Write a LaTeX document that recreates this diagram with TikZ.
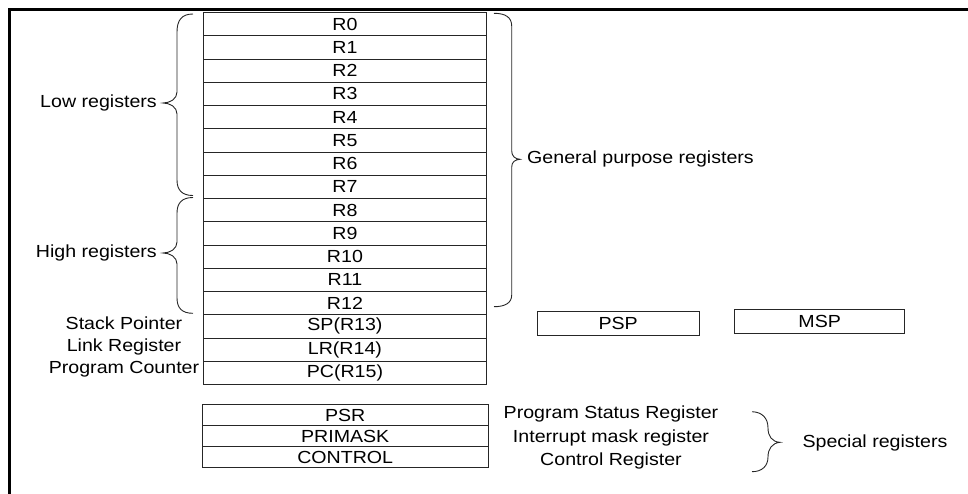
\documentclass[tikz,border=0pt]{standalone}
\usepackage{fontspec}
\setmainfont{Liberation Sans}[FakeStretch=1.12]
\begin{document}
\begin{tikzpicture}[x=1pt,y=-1pt,font=\fontsize{17.5}{20}\selectfont,
  reg/.style={draw=black!85,line width=0.9pt,minimum width=283pt,minimum height=23.25pt,inner sep=0pt,anchor=north west},
  sreg/.style={draw=black!85,line width=0.9pt,minimum width=285.5pt,minimum height=20.9pt,inner sep=0pt,anchor=north west},
  sbox/.style={draw=black!85,line width=0.9pt,inner sep=0pt},
  brc/.style={draw=black!85,line width=0.9pt},
  lbl/.style={inner sep=0pt}]
\useasboundingbox (0,0) rectangle (968,493);
% frame (top and left edges)
\draw[line width=3pt] (9.5,494) -- (9.5,9) -- (969,9);
% core registers
\foreach \i/\t in {0/R0,1/R1,2/R2,3/R3,4/R4,5/R5,6/R6,7/R7,8/R8,9/R9,10/R10,11/R11,12/R12,13/SP(R13),14/LR(R14),15/PC(R15)}
  \node[reg] (r\i) at (203,{12+23.25*\i}) {\t};
% special registers
\node[sreg] (psr) at (202,404.3) {PSR};
\node[sreg] (primask) at (202,425.2) {PRIMASK};
\node[sreg] (control) at (202,446.1) {CONTROL};
% banked stack pointers
\node[sbox,minimum width=162.3pt,minimum height=24pt] (psp) at (618.2,323.3) {PSP};
\node[sbox,minimum width=170pt,minimum height=23.7pt] (msp) at (819.7,321.2) {MSP};
% left labels
\node[lbl] (sp) at (124,323.5) {Stack Pointer};
\node[lbl] (lr) at (124,346.5) {Link Register};
\node[lbl] (pc) at (124,369) {Program Counter};
\node[lbl,anchor=east] (low) at (157,103) {Low registers};
\node[lbl,anchor=east] (high) at (157,253) {High registers};
\node[lbl,anchor=west] (gp) at (527,158.5) {General purpose registers};
\node[lbl] (psrl) at (611,414) {Program Status Register};
\node[lbl] (pml) at (611,438) {Interrupt mask register};
\node[lbl] (ctl) at (611,460.5) {Control Register};
\node[lbl] (spec) at (875,442.5) {Special registers};
% braces
\draw[brc] (193,14) .. controls (182,14) and (177,20) .. (177,32) -- (177,92)
  .. controls (177,99) and (170,103) .. (163,103) .. controls (170,103) and (177,107) .. (177,114)
  -- (177,180) .. controls (177,190) and (182,195.5) .. (193,195.5);
\draw[brc] (193,197.5) .. controls (182,197.5) and (177,203) .. (177,213) -- (177,242)
  .. controls (177,249) and (170,253) .. (163,253) .. controls (170,253) and (177,257) .. (177,264)
  -- (177,298) .. controls (177,308) and (182,313.3) .. (193,313.3);
\draw[brc] (494,13.3) .. controls (505,13.3) and (511.7,17) .. (511.7,26) -- (511.7,151)
  .. controls (511.7,156) and (515,159) .. (520,159.3) .. controls (515,159.6) and (511.7,162) .. (511.7,167)
  -- (511.7,295) .. controls (511.7,303) and (505,306.7) .. (494,306.7);
\draw[brc] (752,411.7) .. controls (762,412) and (768,418) .. (768,428)
  .. controls (768,436) and (772,442) .. (780,442.3) .. controls (772,443) and (768,449) .. (768,457)
  .. controls (768,466) and (762,471.7) .. (752,471.7);
\end{tikzpicture}
\end{document}
